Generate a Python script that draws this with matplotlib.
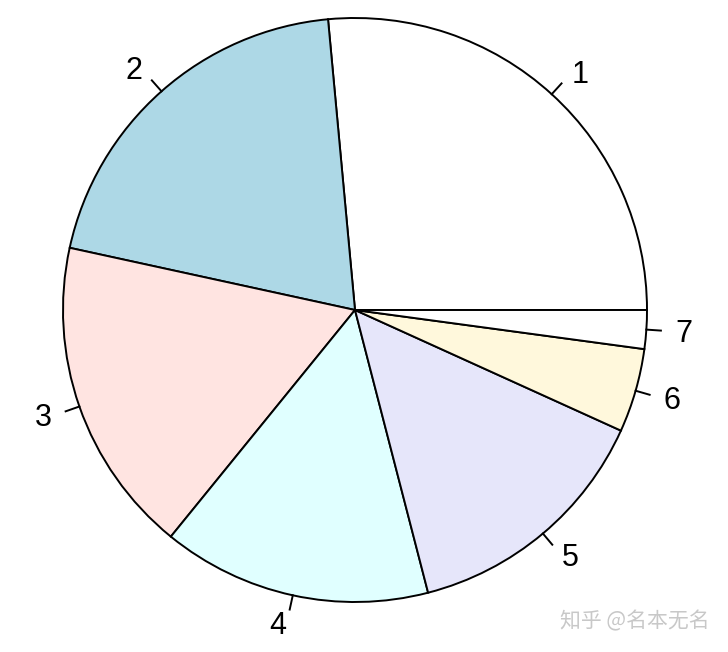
import numpy as np
import matplotlib.pyplot as plt

# slice shares (degrees of arc)
labels = ['1', '2', '3', '4', '5', '6', '7']
values = [95.3, 72.4, 63.2, 53.6, 51.1, 16.7, 7.7]
colors = ['white', 'lightblue', 'mistyrose', 'lightcyan', 'lavender', 'cornsilk', 'white']

W, H = 728, 652
cx, cy, r = 355, H - 310, 292

fig = plt.figure(figsize=(W / 100, H / 100), dpi=100)
ax = fig.add_axes([0, 0, 1, 1])

ax.pie(values, colors=colors, startangle=0, counterclock=True,
       center=(cx, cy), radius=r, frame=True,
       wedgeprops=dict(edgecolor='black', linewidth=1.4))
ax.set_xlim(0, W)
ax.set_ylim(0, H)
ax.axis('off')

# R-style ticks and labels
fracs = np.array(values) / sum(values)
mids = (np.cumsum(fracs) - fracs / 2) * 2 * np.pi
for lab, a in zip(labels, mids):
    c, s = np.cos(a), np.sin(a)
    ax.plot([cx + r * c, cx + 1.05 * r * c], [cy + r * s, cy + 1.05 * r * s],
            color='black', lw=1.4)
    ax.text(cx + 1.1 * r * c, cy + 1.1 * r * s - 2, lab,
            ha='left' if c > 0 else 'right', va='center',
            fontsize=22, family='Liberation Sans')

ax.text(710, H - 621, '知乎 @名本无名', ha='right', va='center', fontsize=15,
        color='#c8c8c8', family=['Noto Sans CJK SC', 'DejaVu Sans'])

fig.savefig('out.png', dpi=100)
